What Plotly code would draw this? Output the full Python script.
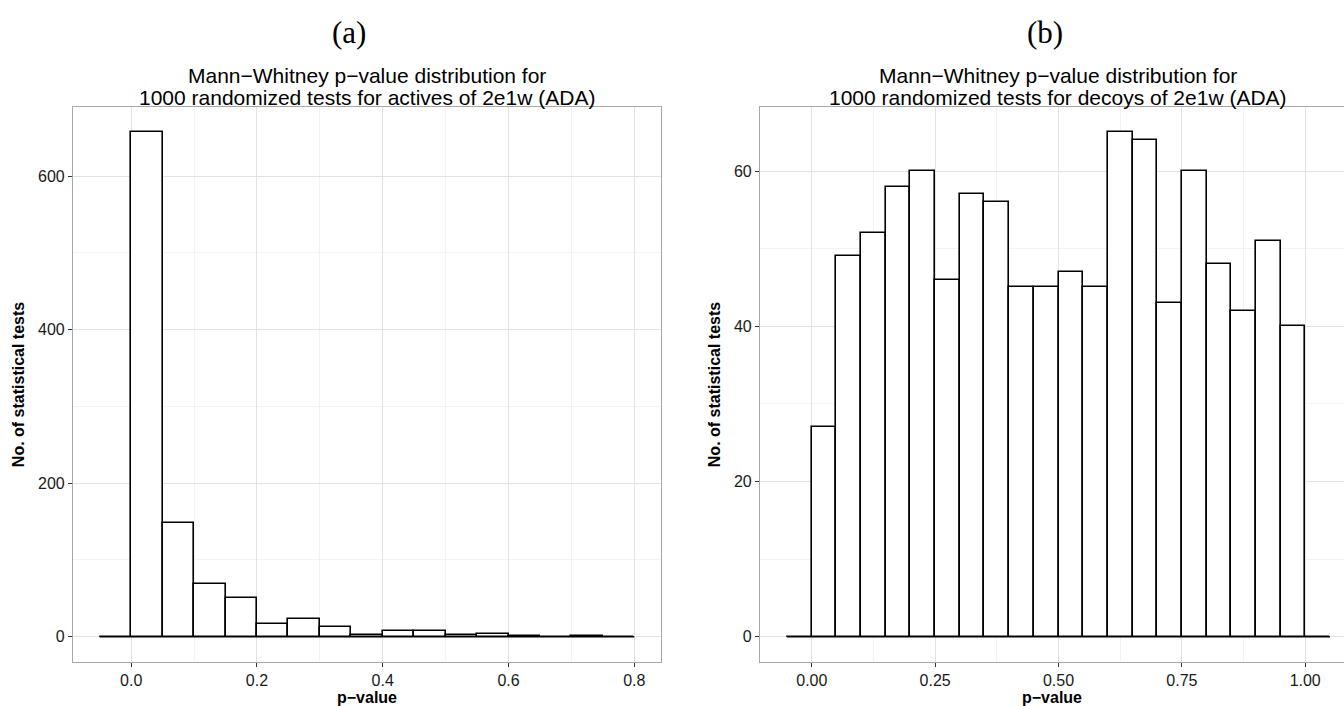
import plotly.graph_objects as go

BIN_WIDTH = 0.05

# Panel (a): actives
a_left_edges = [-0.05, 0.00, 0.05, 0.10, 0.15, 0.20, 0.25, 0.30, 0.35, 0.40,
                0.45, 0.50, 0.55, 0.60, 0.65, 0.70, 0.75]
a_counts = [0, 657, 148, 69, 50, 16, 23, 13, 2, 7, 7, 2, 4, 1, 0, 1, 0]

# Panel (b): decoys
b_left_edges = [-0.05, 0.00, 0.05, 0.10, 0.15, 0.20, 0.25, 0.30, 0.35, 0.40, 0.45,
                0.50, 0.55, 0.60, 0.65, 0.70, 0.75, 0.80, 0.85, 0.90, 0.95, 1.00]
b_counts = [0, 27, 49, 52, 58, 60, 46, 57, 56, 45, 45,
            47, 45, 65, 64, 43, 60, 48, 42, 51, 40, 0]

a_xticks = [0.0, 0.2, 0.4, 0.6, 0.8]
a_xtick_labels = ["0.0", "0.2", "0.4", "0.6", "0.8"]
a_yticks = [0, 200, 400, 600]
b_xticks = [0.0, 0.25, 0.5, 0.75, 1.0]
b_xtick_labels = ["0.00", "0.25", "0.50", "0.75", "1.00"]
b_yticks = [0, 20, 40, 60]

a_title_lines = ["Mann\u2212Whitney p\u2212value distribution for",
                 "1000 randomized tests for actives of 2e1w (ADA)"]
b_title_lines = ["Mann\u2212Whitney p\u2212value distribution for",
                 "1000 randomized tests for decoys of 2e1w (ADA)"]
x_label = "p\u2212value"
y_label = "No. of statistical tests"

W, H = 1344, 706
fig = go.Figure()

def add_hist(edges, counts, xa, ya):
    centers = [e + BIN_WIDTH / 2 for e in edges]
    fig.add_trace(go.Bar(
        x=centers, y=counts, width=[BIN_WIDTH] * len(counts),
        marker=dict(color="white", line=dict(color="black", width=1.6)),
        xaxis=xa, yaxis=ya, showlegend=False, hoverinfo="x+y"))
    fig.add_trace(go.Scatter(
        x=[edges[0], edges[-1] + BIN_WIDTH], y=[0, 0], mode="lines",
        line=dict(color="black", width=1.6), xaxis=xa, yaxis=ya,
        showlegend=False, hoverinfo="skip"))

add_hist(a_left_edges, a_counts, "x", "y")
add_hist(b_left_edges, b_counts, "x2", "y2")

def minors(ticks):
    return [(ticks[i] + ticks[i + 1]) / 2 for i in range(len(ticks) - 1)]

TOP_PX, BOT_PX = 107, 662
y_dom = [1 - BOT_PX / H, 1 - TOP_PX / H]
common_axis = dict(
    showgrid=True, gridcolor="#e3e3e3", gridwidth=1,
    zeroline=False, showline=True, linecolor="#a8a8a8", linewidth=1.2,
    ticks="outside", ticklen=4, tickcolor="#333333", tickwidth=1,
    tickfont=dict(family="Liberation Sans, Arial", size=16, color="#1a1a1a"),
    minor=dict(showgrid=True, gridcolor="#f3f3f3", gridwidth=1, ticks=""),
)

a_xmax = max(a_left_edges) + BIN_WIDTH
a_xmin = min(a_left_edges)
a_xpad = (a_xmax - a_xmin) * 0.05
a_ymax = max(a_counts)
b_xmax = max(b_left_edges) + BIN_WIDTH
b_xmin = min(b_left_edges)
b_xpad = (b_xmax - b_xmin) * 0.05
b_ymax = max(b_counts)

b_left_px, b_right_px = 760, 1357
b_range_hi = (b_xmin - b_xpad) + (b_xmax + b_xpad - (b_xmin - b_xpad)) * (W - b_left_px) / (b_right_px - b_left_px)

title_font = dict(family="Liberation Sans, Arial", size=16, color="black")

fig.update_layout(
    width=W, height=H, margin=dict(l=0, r=0, t=0, b=0),
    paper_bgcolor="white", plot_bgcolor="white", bargap=0,
    xaxis=dict(common_axis, domain=[73 / W, 661 / W], anchor="y",
               range=[a_xmin - a_xpad, a_xmax + a_xpad], mirror=True,
               tickvals=a_xticks, ticktext=a_xtick_labels,
               minor=dict(common_axis["minor"], tickvals=minors(a_xticks)),
               title=dict(text="<b>" + x_label + "</b>", font=title_font, standoff=5)),
    yaxis=dict(common_axis, domain=y_dom, anchor="x",
               range=[-a_ymax * 0.05, a_ymax * 1.05], mirror=True,
               tickvals=a_yticks,
               minor=dict(common_axis["minor"], tickvals=minors(a_yticks)),
               title=dict(text="<b>" + y_label + "</b>", font=title_font, standoff=9)),
    xaxis2=dict(common_axis, domain=[b_left_px / W, 1.0], anchor="y2",
                range=[b_xmin - b_xpad, b_range_hi], mirror=True,
                tickvals=b_xticks, ticktext=b_xtick_labels,
                minor=dict(common_axis["minor"], tickvals=minors(b_xticks)),
                title=dict(text="<b>" + x_label + "</b>", font=title_font, standoff=5)),
    yaxis2=dict(common_axis, domain=y_dom, anchor="x2",
                range=[-b_ymax * 0.05, b_ymax * 1.05], mirror=False,
                tickvals=b_yticks,
                minor=dict(common_axis["minor"], tickvals=minors(b_yticks)),
                title=dict(text="<b>" + y_label + "</b>", font=title_font, standoff=9)),
)

for txt, xc in [("(a)", 349), ("(b)", 1045)]:
    fig.add_annotation(x=xc / W, y=1 - 32 / H, xref="paper", yref="paper", text=txt,
                       showarrow=False, xanchor="center", yanchor="middle",
                       font=dict(family="Liberation Serif, Times New Roman", size=31, color="black"))
for lines, xc in [(a_title_lines, 367), (b_title_lines, 1058)]:
    for line, yc in zip(lines, [75, 97]):
        fig.add_annotation(x=xc / W, y=1 - yc / H, xref="paper", yref="paper", text=line,
                           showarrow=False, xanchor="center", yanchor="middle",
                           font=dict(family="Liberation Sans, Arial", size=21, color="black"))

fig.write_html("out.html", config={"displayModeBar": False},
               post_script="document.body.style.margin='0px';")
